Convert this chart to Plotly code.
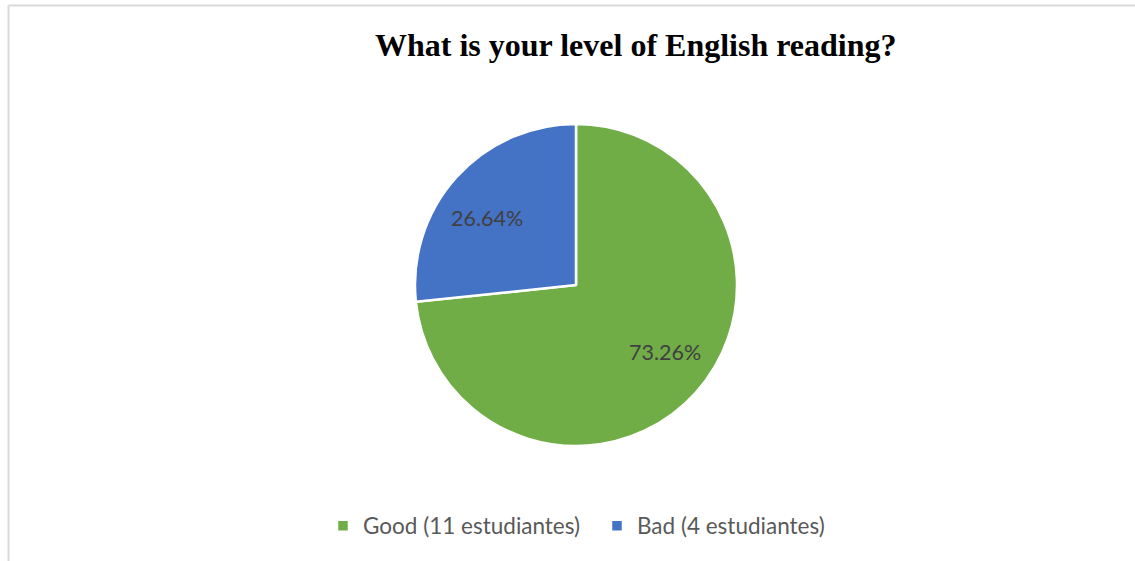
import math
import plotly.graph_objects as go

# Survey answers: share of students per reading level
labels = ["Good (11 estudiantes)", "Bad (4 estudiantes)"]
shares = [73.26, 26.64]
colors = ["#70AD47", "#4472C4"]
title_text = "What is your level of English reading?"

W, H = 1135, 561

# Pie placement in paper coordinates (margins are zero)
cx_px, cy_px, r_px = 576, 285, 161
dom_x = [(cx_px - r_px) / W, (cx_px + r_px) / W]
dom_y = [(H - (cy_px + r_px)) / H, (H - (cy_px - r_px)) / H]

fig = go.Figure(
    go.Pie(
        labels=labels,
        values=shares,
        sort=False,
        direction="clockwise",
        rotation=0,
        marker=dict(colors=colors, line=dict(color="white", width=2.5)),
        textinfo="none",
        hoverinfo="label+value",
        domain=dict(x=dom_x, y=dom_y),
    )
)

# Data labels: placed near each slice's mid-angle, showing the stated value
label_radius = 0.69
label_turn = math.radians(-5)
total = sum(shares)
annotations = []
start = 0.0
for v in shares:
    mid = (start + v / 2) / total * 2 * math.pi + label_turn
    start += v
    lx = cx_px + label_radius * r_px * math.sin(mid)
    ly = cy_px - label_radius * r_px * math.cos(mid)
    annotations.append(
        dict(
            x=lx / W, y=(H - ly) / H, xref="paper", yref="paper",
            text=f"{v:.2f}%", showarrow=False,
            font=dict(family="Lato, Noto Sans, sans-serif", size=21.5, color="#404040"),
            xanchor="center", yanchor="middle",
        )
    )

annotations.append(
    dict(
        x=636 / W, y=(H - 45) / H, xref="paper", yref="paper",
        text=f"<b>{title_text}</b>", showarrow=False,
        font=dict(family="Liberation Serif, Times New Roman, serif", size=32, color="#000000"),
        xanchor="center", yanchor="middle",
    )
)

# Chart-area frame: light grey lines on the left and top edges
shapes = [
    dict(type="line", xref="paper", yref="paper",
         x0=8.5 / W, x1=8.5 / W, y0=0, y1=(H - 5.5) / H,
         line=dict(color="#D9D9D9", width=2)),
    dict(type="line", xref="paper", yref="paper",
         x0=8.5 / W, x1=1, y0=(H - 5.5) / H, y1=(H - 5.5) / H,
         line=dict(color="#D9D9D9", width=2)),
]

fig.update_layout(
    width=W, height=H,
    margin=dict(l=0, r=0, t=0, b=0),
    paper_bgcolor="white",
    plot_bgcolor="white",
    showlegend=True,
    legend=dict(
        orientation="h",
        x=323 / W, xanchor="left",
        y=(H - 526) / H, yanchor="middle",
        font=dict(family="Lato, Noto Sans, sans-serif", size=22.5, color="#595959"),
        itemwidth=30,
        entrywidth=229,
        tracegroupgap=0,
    ),
    annotations=annotations,
    shapes=shapes,
)

fig.write_html("out.html")
